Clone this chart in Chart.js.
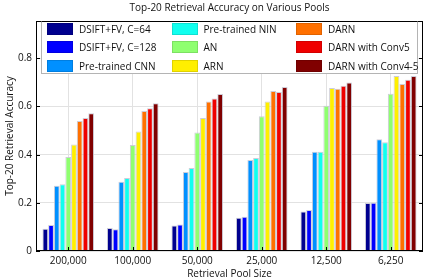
<!DOCTYPE html>
<html>
<head>
<meta charset="utf-8">
<script src="https://cdn.jsdelivr.net/npm/chart.js@4/dist/chart.umd.min.js"></script>
<style>
    body { margin: 0; background: #fff; }
    .wrap { position: relative; width: 428px; height: 278px; font-family: 'Open Sans', sans-serif; }
    .legend {
        position: absolute; left: 41px; top: 21px; width: 375px; height: 51px;
        background: #fff; border: 1px solid #b4b4b4; border-top-color: #000;
    }
    .legend__swatch { position: absolute; width: 26px; height: 12px; box-sizing: border-box; border: 1px solid rgba(0, 0, 0, 0.12); }
    .legend__text { position: absolute; font-size: 10px; line-height: 12px; color: #111; white-space: nowrap; }
</style>
</head>
<body>
<div class="wrap">
    <canvas id="chart" width="428" height="278"></canvas>
    <div class="legend js-legend"></div>
</div>
<script>
// --- Data ---
const poolSizes = ['200,000', '100,000', '50,000', '25,000', '12,500', '6,250'];

const seriesNames = [
    'DSIFT+FV, C=64', 'DSIFT+FV, C=128', 'Pre-trained CNN',
    'Pre-trained NIN', 'AN', 'ARN',
    'DARN', 'DARN with Conv5', 'DARN with Conv4-5'
];

const seriesColors = [
    '#00008F', '#0000FF', '#0090FF',
    '#10FFEF', '#8FFF70', '#FFEF00',
    '#FF7000', '#EF0000', '#800000'
];

const dsift64  = [0.092, 0.095, 0.106, 0.138, 0.164, 0.199];
const dsift128 = [0.108, 0.090, 0.110, 0.142, 0.170, 0.200];
const cnn      = [0.271, 0.288, 0.328, 0.378, 0.412, 0.464];
const nin      = [0.277, 0.303, 0.345, 0.386, 0.412, 0.452];
const an       = [0.390, 0.440, 0.492, 0.560, 0.603, 0.653];
const arn      = [0.442, 0.496, 0.552, 0.621, 0.677, 0.727];
const darn     = [0.540, 0.581, 0.621, 0.664, 0.674, 0.693];
const conv5    = [0.552, 0.593, 0.633, 0.660, 0.686, 0.711];
const conv45   = [0.572, 0.613, 0.652, 0.681, 0.700, 0.727];

const yTicks = [0, 0.2, 0.4, 0.6, 0.8];

const seriesValues = [dsift64, dsift128, cnn, nin, an, arn, darn, conv5, conv45];

// --- Box + inward ticks (MATLAB style axes) ---
const axesBox = {
    id: 'axesBox',
    afterDatasetsDraw(chart) {
        const { ctx, chartArea: a, scales: { x, y } } = chart;
        ctx.save();
        ctx.strokeStyle = '#000';
        ctx.lineWidth = 1;
        ctx.strokeRect(a.left + 0.5, a.top + 0.5, a.right - a.left - 1, a.bottom - a.top - 1);

        ctx.beginPath();
        yTicks.forEach(v => {
            const py = Math.round(y.getPixelForValue(v)) + 0.5;
            ctx.moveTo(a.left, py); ctx.lineTo(a.left + 4, py);
            ctx.moveTo(a.right, py); ctx.lineTo(a.right - 4, py);
        });
        poolSizes.forEach((_, i) => {
            const px = Math.round(x.getPixelForValue(i)) + 0.5;
            ctx.moveTo(px, a.bottom); ctx.lineTo(px, a.bottom - 4);
            ctx.moveTo(px, a.top); ctx.lineTo(px, a.top + 4);
        });
        ctx.stroke();
        ctx.restore();
    }
};

const fontFamily = "'Open Sans', sans-serif";

new Chart(document.getElementById('chart'), {
    type: 'bar',
    data: {
        labels: poolSizes,
        datasets: seriesNames.map((name, i) => ({
            label: name,
            data: seriesValues[i],
            backgroundColor: seriesColors[i],
            borderColor: 'rgba(200, 200, 212, 0.9)',
            borderWidth: 1,
            borderSkipped: 'bottom',
            categoryPercentage: 0.8,
            barPercentage: 1
        }))
    },
    options: {
        responsive: false,
        animation: false,
        layout: { autoPadding: false, padding: { left: 0, right: 5, top: 0, bottom: 0 } },
        plugins: {
            legend: { display: false },
            tooltip: { enabled: false },
            title: {
                display: true,
                text: 'Top-20 Retrieval Accuracy on Various Pools',
                fullSize: false,
                color: '#111',
                font: { family: fontFamily, size: 10, weight: 'normal' },
                padding: { top: 2, bottom: 7 }
            }
        },
        scales: {
            x: {
                grid: { color: '#e2e2e2', offset: false, drawTicks: false },
                border: { display: false },
                ticks: { color: '#111', padding: 4, maxRotation: 0, font: { family: fontFamily, size: 10 } },
                title: {
                    display: true, text: 'Retrieval Pool Size', color: '#111',
                    font: { family: fontFamily, size: 10 }, padding: { top: 0, bottom: -2 }
                },
                afterFit(scale) { scale.height = 27; }
            },
            y: {
                min: 0,
                max: 0.955,
                afterBuildTicks(scale) { scale.ticks = yTicks.map(v => ({ value: v })); },
                grid: { color: '#e2e2e2', drawTicks: false },
                border: { display: false },
                ticks: {
                    color: '#111', padding: 4, font: { family: fontFamily, size: 10 },
                    callback: v => (v === 0 ? '0' : v.toFixed(1))
                },
                title: {
                    display: true, text: 'Top-20 Retrieval Accuracy', color: '#111',
                    font: { family: fontFamily, size: 10 }, padding: { top: 4, bottom: 0 }
                },
                afterFit(scale) { scale.width = 36; }
            }
        }
    },
    plugins: [axesBox]
});

// --- Legend: three columns, filled top to bottom ---
const legendEl = document.querySelector('.js-legend');
seriesNames.forEach((name, i) => {
    const col = Math.floor(i / 3);
    const row = i % 3;
    const swatch = document.createElement('div');
    swatch.className = 'legend__swatch';
    swatch.style.left = (5 + col * 124.5) + 'px';
    swatch.style.top = (1 + row * 18.3) + 'px';
    swatch.style.background = seriesColors[i];
    const label = document.createElement('div');
    label.className = 'legend__text';
    label.style.left = (37 + col * 124.5) + 'px';
    label.style.top = (1 + row * 18.3) + 'px';
    label.textContent = name;
    legendEl.appendChild(swatch);
    legendEl.appendChild(label);
});
</script>
</body>
</html>
